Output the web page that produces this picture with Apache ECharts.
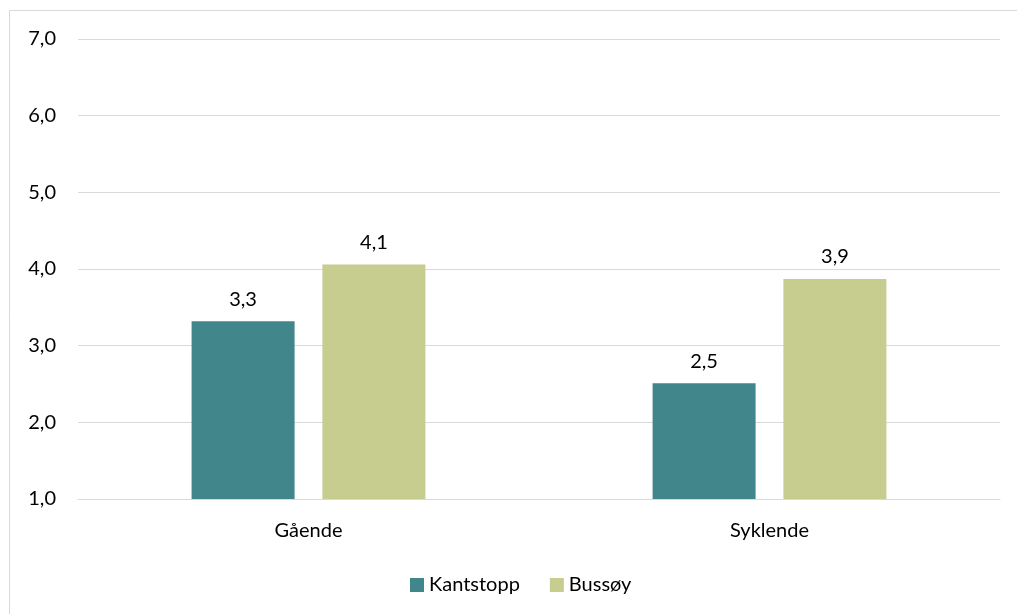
<!DOCTYPE html>
<html><head><meta charset="utf-8">
<script src="https://cdn.jsdelivr.net/npm/echarts@6/dist/echarts.min.js"></script>
<style>html,body{margin:0;padding:0;background:#fff}#c{width:1017px;height:614px}</style>
</head><body><div id="c"></div>
<script>
const categories = ['Gående', 'Syklende'];
const kantstopp = [3.32, 2.51];
const bussoy = [4.06, 3.87];
const seriesNames = ['Kantstopp', 'Bussøy'];
const yTicks = [1, 2, 3, 4, 5, 6, 7];

const font = 'Lato';
const fs = 20;
const fmt = v => v.toFixed(1).replace('.', ',');
const chart = echarts.init(document.getElementById('c'), null, {renderer: 'canvas'});
chart.setOption({
  animation: false,
  backgroundColor: '#fff',
  textStyle: {fontFamily: font},
  graphic: [{type: 'rect', shape: {x: 9.5, y: 10.5, width: 1020, height: 620}, style: {fill: 'none', stroke: '#d9d9d9', lineWidth: 1}, silent: true}],
  grid: {left: 78, right: 17, top: 39, bottom: 115, containLabel: false},
  legend: {
    data: seriesNames, bottom: 19, left: 410, padding: 0, itemWidth: 14, itemHeight: 14, itemGap: 30,
    icon: 'rect', textStyle: {fontFamily: font, fontSize: fs, color: '#000'}
  },
  xAxis: {
    type: 'category', data: categories,
    axisLine: {lineStyle: {color: '#d9d9d9', width: 1}}, axisTick: {show: false},
    axisLabel: {fontFamily: font, fontSize: fs, color: '#000', margin: 22}
  },
  yAxis: {
    type: 'value', min: yTicks[0], max: yTicks[yTicks.length - 1], interval: 1,
    axisLine: {show: false}, axisTick: {show: false},
    splitLine: {lineStyle: {color: '#d9d9d9', width: 1}},
    axisLabel: {fontFamily: font, fontSize: fs, color: '#000', margin: 22, formatter: v => fmt(v)}
  },
  series: [
    {name: seriesNames[0], type: 'bar', data: kantstopp, barWidth: 103, barGap: '27%', itemStyle: {color: '#40868A'},
     label: {show: true, position: 'top', distance: 12, fontFamily: font, fontSize: fs, color: '#000', formatter: p => fmt(p.value)}},
    {name: seriesNames[1], type: 'bar', data: bussoy, barWidth: 103, itemStyle: {color: '#C6CD8E'},
     label: {show: true, position: 'top', distance: 12, fontFamily: font, fontSize: fs, color: '#000', formatter: p => fmt(p.value)}}
  ]
});
</script></body></html>
